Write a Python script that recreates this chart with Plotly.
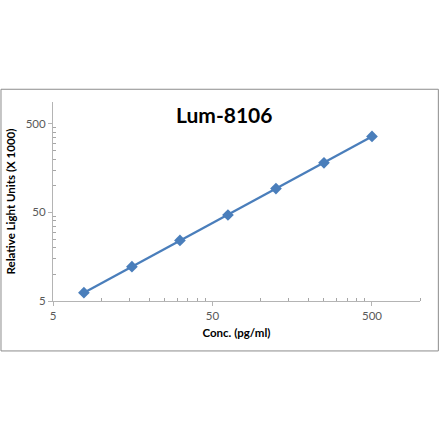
import numpy as np
import plotly.graph_objects as go

# standard curve values
conc = [7.8125, 15.625, 31.25, 62.5, 125, 250, 500]
rlu = [6.2, 12.2, 24.1, 46.7, 92.7, 181, 360]

tick_vals = [5, 50, 500]
tick_text = ["5", "50", "500"]
minor_vals = [5 * k * 10**n for n in range(3) for k in range(2, 10)]

blue = "#4a7ebb"
axis_grey = "#b4b4b4"
label_grey = "#595959"
font = "Lato"

fig = go.Figure(
    go.Scatter(
        x=conc,
        y=rlu,
        mode="lines+markers",
        line=dict(color=blue, width=2.25),
        marker=dict(symbol="diamond", size=9, color=blue),
        showlegend=False,
    )
)

axis_common = dict(
    type="log",
    automargin=False,
    tickmode="array",
    tickvals=tick_vals,
    ticktext=tick_text,
    showgrid=False,
    zeroline=False,
    showline=True,
    linecolor=axis_grey,
    linewidth=1,
    ticks="outside",
    ticklen=4,
    tickcolor=axis_grey,
    tickfont=dict(family=font, size=11.5, color=label_grey),
    minor=dict(
        tickmode="array",
        tickvals=minor_vals,
        ticks="inside",
        ticklen=3,
        tickcolor="#a6a6a6",
        tickwidth=1,
        showgrid=False,
    ),
)

fig.update_layout(
    width=440,
    height=441,
    margin=dict(l=53, r=20, t=102, b=140),
    paper_bgcolor="white",
    plot_bgcolor="white",
    font=dict(family=font),
    xaxis=dict(
        axis_common,
        range=[np.log10(5), np.log10(1000)],
        title=dict(
            text="<b>Conc. (pg/ml)</b>",
            font=dict(family=font, size=11.5, color="#000000"),
            standoff=8,
        ),
    ),
    yaxis=dict(
        axis_common,
        range=[np.log10(5), np.log10(880)],
        title=dict(
            text="<b>Relative Light Units (X 1000)</b>",
            font=dict(family=font, size=11.5, color="#000000"),
            standoff=7,
        ),
    ),
    annotations=[
        dict(
            text="<b>Lum-8106</b>",
            x=0.465,
            y=1.0,
            xref="paper",
            yref="paper",
            xanchor="center",
            yanchor="middle",
            yshift=-12,
            showarrow=False,
            font=dict(family=font, size=21, color="#000000"),
        )
    ],
    shapes=[
        dict(
            type="rect",
            xref="paper",
            yref="paper",
            x0=-0.1417,
            x1=1.05,
            y0=-0.251,
            y1=1.064,
            line=dict(color="#8c8c8c", width=1),
            layer="below",
        )
    ],
)

# the page body has a default 8px margin; drop it so the figure sits at 0,0
fig.write_html(
    "out.html",
    config={"displayModeBar": False},
    post_script="document.body.style.margin = '0';",
)
